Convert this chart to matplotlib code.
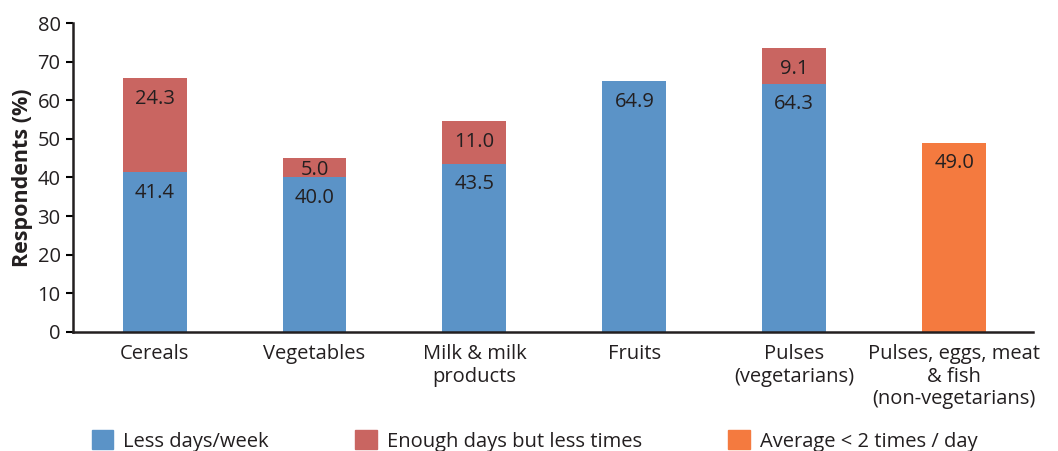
import matplotlib
matplotlib.use("Agg")
import matplotlib.pyplot as plt
from matplotlib.patches import Patch
import numpy as np

categories = ["Cereals", "Vegetables", "Milk & milk\nproducts", "Fruits",
              "Pulses\n(vegetarians)", "Pulses, eggs, meat\n& fish\n(non-vegetarians)"]
less_days = [41.4, 40.0, 43.5, 64.9, 64.3, 0]
enough_days = [24.3, 5.0, 11.0, 0, 9.1, 0]
avg_lt2 = [0, 0, 0, 0, 0, 49.0]
legend_labels = ["Less days/week", "Enough days but less times", "Average < 2 times / day"]

blue = "#5B93C7"
red = "#C96561"
orange = "#F47A3F"
txt = "#231F20"

plt.rcParams['font.family'] = ['Open Sans', 'DejaVu Sans']

fig = plt.figure(figsize=(10.58, 4.51), dpi=100)
ax = fig.add_axes([0.069, 0.264, 0.907, 0.685])

x = np.arange(len(categories))
w = 0.4
ax.bar(x, less_days, w, color=blue)
ax.bar(x, enough_days, w, bottom=less_days, color=red)
ax.bar(x, avg_lt2, w, color=orange)

fs = 14.5
off = 5.3
for i in range(len(categories)):
    if less_days[i] > 0:
        ax.text(x[i], less_days[i] - off, f"{less_days[i]:.1f}", ha="center", va="center",
                fontsize=fs, color=txt)
    if enough_days[i] > 0:
        top = less_days[i] + enough_days[i]
        ax.text(x[i], top - min(off, 3.0) if enough_days[i] < 8 else top - off,
                f"{enough_days[i]:.1f}", ha="center", va="center",
                fontsize=fs, color=txt)
    if avg_lt2[i] > 0:
        ax.text(x[i], avg_lt2[i] - off, f"{avg_lt2[i]:.1f}", ha="center", va="center",
                fontsize=fs, color=txt)

ax.set_xlim(-0.51, 5.49)
ax.set_ylim(0, 80)
ax.set_yticks(range(0, 81, 10))
ax.set_xticks(x)
ax.set_xticklabels(categories, fontsize=fs, color=txt, linespacing=1.15)
ax.tick_params(axis="x", length=0, pad=9)
ax.tick_params(axis="y", labelsize=fs, labelcolor=txt, length=5, width=1.5, direction="out", pad=4)
for s in ["top", "right"]:
    ax.spines[s].set_visible(False)
ax.spines["left"].set_linewidth(1.8)
ax.spines["bottom"].set_linewidth(1.8)
ax.spines["left"].set_color(txt)
ax.spines["bottom"].set_color(txt)
ax.set_ylabel("Respondents (%)", fontsize=15.5, fontweight="bold", color=txt, labelpad=3)

handles = [Patch(color=blue), Patch(color=red), Patch(color=orange)]
fig.legend(handles, legend_labels, loc="center left", bbox_to_anchor=(0.087, 0.022),
           ncol=3, frameon=False, fontsize=fs, handlelength=1.05, handleheight=1.05,
           columnspacing=4.3, handletextpad=0.5, borderaxespad=0, borderpad=0,
           labelcolor=txt)

fig.savefig("out.png", dpi=100)
